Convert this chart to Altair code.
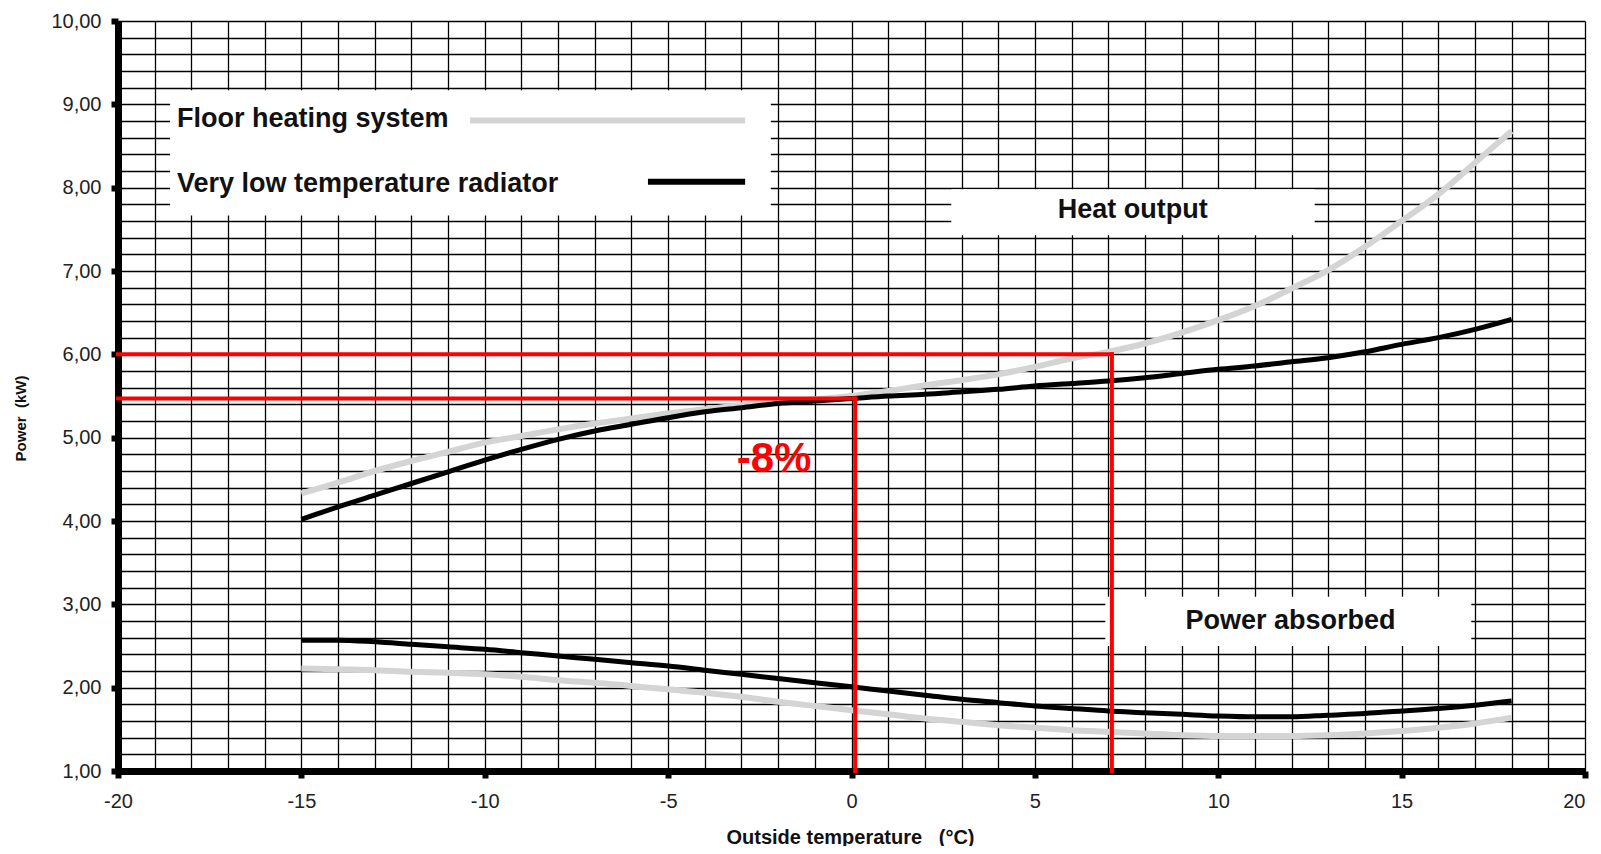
import altair as alt
import pandas as pd

# ---------------- data ----------------
temps = list(range(-15, 19))

floor_heat = [4.33, 4.46, 4.60, 4.72, 4.83, 4.94, 5.02, 5.10, 5.17, 5.23, 5.29, 5.34,
              5.39, 5.43, 5.46, 5.50, 5.56, 5.63, 5.69, 5.76, 5.85, 5.95, 6.03, 6.13,
              6.26, 6.41, 6.58, 6.79, 7.01, 7.29, 7.60, 7.92, 8.30, 8.68]
radiator_heat = [4.02, 4.17, 4.31, 4.45, 4.59, 4.73, 4.86, 4.98, 5.08, 5.16, 5.24, 5.31,
                 5.36, 5.41, 5.44, 5.47, 5.50, 5.52, 5.55, 5.58, 5.62, 5.65, 5.68, 5.72,
                 5.77, 5.82, 5.86, 5.91, 5.96, 6.03, 6.12, 6.20, 6.30, 6.42]
floor_power = [2.23, 2.22, 2.21, 2.19, 2.18, 2.16, 2.13, 2.09, 2.06, 2.02, 1.98, 1.94,
               1.89, 1.83, 1.78, 1.73, 1.68, 1.63, 1.59, 1.55, 1.52, 1.49, 1.47, 1.45,
               1.43, 1.42, 1.42, 1.42, 1.43, 1.45, 1.48, 1.52, 1.57, 1.64]
radiator_power = [2.57, 2.57, 2.55, 2.52, 2.49, 2.46, 2.42, 2.38, 2.34, 2.30, 2.26, 2.21,
                  2.16, 2.11, 2.06, 2.01, 1.96, 1.91, 1.86, 1.82, 1.78, 1.75, 1.72, 1.70,
                  1.68, 1.66, 1.65, 1.65, 1.67, 1.69, 1.72, 1.75, 1.79, 1.84]

systems = ["Floor heating system", "Very low temperature radiator"]
system_colors = ["#d4d4d4", "#000000"]
legend_sample_colors = ["#bababa", "#000000"]

x_grid = list(range(-20, 21))
y_grid = [round(1 + 0.2 * i, 1) for i in range(46)]

# red marker (-8 %)
red_temps = [0.1, 7.1]
red_powers = [5.47, 6.0]
red_label = "-8%"

# ---------------- tables ----------------
rows = []
for sysname, kind, vals in [
    (systems[0], "heat", floor_heat),
    (systems[1], "heat", radiator_heat),
    (systems[0], "power", floor_power),
    (systems[1], "power", radiator_power),
]:
    for t, v in zip(temps, vals):
        rows.append({"t": t, "p": v, "system": sysname, "curve": sysname + kind})
curves = pd.DataFrame(rows)

boxes = pd.DataFrame({
    "x": [-18.58, 2.72, 6.92],
    "x2": [-2.2, 12.63, 16.9],
    "y": [7.665, 7.43, 2.5],
    "y2": [9.17, 7.98, 3.09],
})

legend_lines = pd.DataFrame({
    "x": [-10.4, -5.55],
    "x2": [-2.9, -2.9],
    "y": [8.805, 8.07],
    "system": systems,
})
legend_text = pd.DataFrame({"x": [-18.39, -18.39], "y": [8.82, 8.05], "label": systems})
section_text = pd.DataFrame({"x": [7.67, 11.97], "y": [7.73, 2.80],
                             "label": ["Heat output", "Power absorbed"]})

red_h = pd.DataFrame({"x": [-20, -20], "x2": red_temps, "y": red_powers})
red_v = pd.DataFrame({"x": red_temps, "y": [1, 1], "y2": red_powers})
red_txt = pd.DataFrame({"x": [-2.11], "y": [4.75], "label": [red_label]})

FONT = "Liberation Sans"

xscale = alt.Scale(domain=[-20, 20], nice=False, zero=False)
yscale = alt.Scale(domain=[1, 10], nice=False, zero=False)

x_major = "abs(datum.value % 5) < 0.001"
y_major = "abs(datum.value - round(datum.value)) < 0.001"

x_axis = alt.Axis(
    values=x_grid, tickCount=1000, grid=True, gridColor="#000000", gridWidth=1.3,
    domainColor="#000000", domainWidth=7,
    tickColor="#000000", tickWidth=6, tickSize=7,
    tickOpacity={"condition": {"test": x_major, "value": 1}, "value": 0},
    labelExpr=x_major + " ? '' + datum.value : ''",
    labelAlign={"condition": {"test": "datum.value >= 20", "value": "right"}, "value": "center"},
    labelFont=FONT, labelFontSize=20, labelColor="#222222", labelPadding=13,
    labelFlush=False, labelOverlap=False, labelBound=False,
    title="Outside temperature\u00a0\u00a0 (°C)", titleFont=FONT, titleFontSize=20,
    titleFontWeight="bold", titleColor="#111111",
    titleX=732, titleY=66, titleAlign="center", titleBaseline="middle",
)
y_axis = alt.Axis(
    values=y_grid, tickCount=1000, grid=True, gridColor="#000000", gridWidth=1.3,
    domainColor="#000000", domainWidth=7,
    tickColor="#000000", tickWidth=6, tickSize=7,
    tickOpacity={"condition": {"test": y_major, "value": 1}, "value": 0},
    labelExpr=y_major + " ? replace(format(datum.value, '.2f'), '.', ',') : ''",
    labelFont=FONT, labelFontSize=20, labelColor="#222222", labelPadding=10,
    labelFlush=False, labelOverlap=False, labelBound=False, labelBaseline="middle",
    title="Power\u00a0 (kW)", titleFont=FONT, titleFontSize=15,
    titleFontWeight="bold", titleColor="#111111",
    titleX=-98, titleY=397, titleAngle=270, titleAlign="center", titleBaseline="middle",
)

base_rect = alt.Chart(boxes).mark_rect(color="white").encode(
    x=alt.X("x:Q", scale=xscale, axis=x_axis),
    x2="x2:Q",
    y=alt.Y("y:Q", scale=yscale, axis=y_axis),
    y2="y2:Q",
)

lines = alt.Chart(curves).mark_line(interpolate="monotone", strokeCap="butt").encode(
    x=alt.X("t:Q", scale=xscale),
    y=alt.Y("p:Q", scale=yscale),
    color=alt.Color("system:N", scale=alt.Scale(domain=systems, range=system_colors), legend=None),
    strokeWidth=alt.StrokeWidth("system:N", scale=alt.Scale(domain=systems, range=[6, 5]), legend=None),
    detail="curve:N",
)

leg_lines = alt.Chart(legend_lines).mark_rule(strokeWidth=6).encode(
    x=alt.X("x:Q", scale=xscale), x2="x2:Q",
    y=alt.Y("y:Q", scale=yscale),
    color=alt.Color("system:N", scale=alt.Scale(domain=systems, range=legend_sample_colors), legend=None),
)

leg_txt = alt.Chart(legend_text).mark_text(
    font=FONT, fontSize=27, fontWeight="bold", align="left", baseline="middle", color="#111111"
).encode(x=alt.X("x:Q", scale=xscale), y=alt.Y("y:Q", scale=yscale), text="label:N")

sec_txt = alt.Chart(section_text).mark_text(
    font=FONT, fontSize=27, fontWeight="bold", align="center", baseline="middle", color="#111111"
).encode(x=alt.X("x:Q", scale=xscale), y=alt.Y("y:Q", scale=yscale), text="label:N")

red_hl = alt.Chart(red_h).mark_rule(color="#ff0000", strokeWidth=4, strokeCap="square").encode(
    x=alt.X("x:Q", scale=xscale), x2="x2:Q", y=alt.Y("y:Q", scale=yscale))
red_vl = alt.Chart(red_v).mark_rule(color="#ff0000", strokeWidth=4, strokeCap="square").encode(
    x=alt.X("x:Q", scale=xscale), y=alt.Y("y:Q", scale=yscale), y2="y2:Q")
red_t = alt.Chart(red_txt).mark_text(
    font=FONT, fontSize=42, fontWeight="bold", align="center", baseline="middle", color="#ff0000"
).encode(x=alt.X("x:Q", scale=xscale), y=alt.Y("y:Q", scale=yscale), text="label:N")

chart = alt.layer(
    base_rect, lines, leg_lines, leg_txt, sec_txt, red_hl, red_vl, red_t
).properties(
    width=1467, height=750,
    padding={"left": 110, "top": 13, "right": 8, "bottom": 75},
    autosize=alt.AutoSizeParams(type="none"),
    background="white",
).configure_view(strokeWidth=0)

chart.save("out.html", embed_options={"renderer": "svg", "actions": False})
